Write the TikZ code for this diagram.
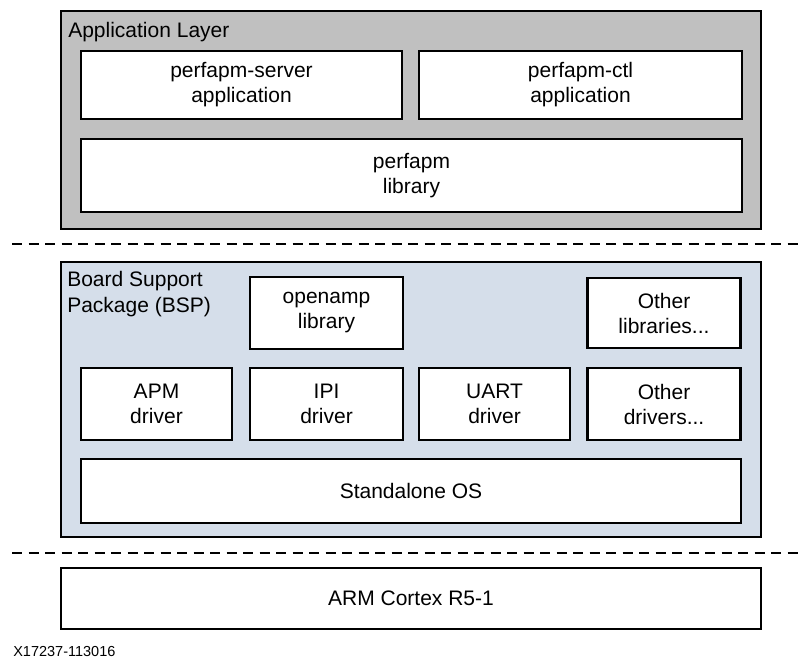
\documentclass[tikz,border=0pt]{standalone}
\usepackage{fontspec}
\setmainfont{Liberation Sans}
\usetikzlibrary{positioning,calc}

\definecolor{applayer}{HTML}{C0C0C0}
\definecolor{bsplayer}{HTML}{D5DEEA}

\begin{document}
\begin{tikzpicture}[x=1pt, y=-1pt, line width=2.6pt,
    layer/.style={draw, rectangle, minimum width=700pt},
    block/.style={draw, rectangle, fill=white, align=center, font=\fontsize{21}{25}\selectfont},
    title/.style={anchor=north west, inner sep=0pt, align=left, font=\fontsize{21}{26}\selectfont},
    sepline/.style={line width=1.6pt, dash pattern=on 10pt off 6.5pt}]
    \useasboundingbox (0,0) rectangle (799,661);

    % Application layer
    \node[layer, fill=applayer, minimum height=218pt] (app) at (411,120) {};
    \node[title] (apptitle) at (67,21) {Application Layer};
    \node[block, minimum width=321pt, minimum height=68pt] (server) at (241.5,85) {perfapm-server\\application};
    \node[block, minimum width=323pt, minimum height=68pt] (ctl) at (580.5,85) {perfapm-ctl\\application};
    \node[block, minimum width=661pt, minimum height=73pt] (lib) at (411.5,175.5) {perfapm\\library};

    % Separators
    \coordinate (cutAL) at (12,244);
    \coordinate (cutAR) at (799,244);
    \draw[sepline] (cutAL) -- (cutAR);

    % Board support package
    \node[layer, fill=bsplayer, minimum height=275pt] (bsp) at (411,399.5) {};
    \node[title] (bsptitle) at (66,270) {Board Support\\Package (BSP)};
    \node[block, minimum width=153pt, minimum height=72pt] (openamp) at (326.5,313) {openamp\\library};
    \node[block, minimum width=153pt, minimum height=70pt] (otherlib) at (664,313) {Other\\libraries...};
    \node[block, minimum width=151pt, minimum height=72pt] (apm) at (156.5,404) {APM\\driver};
    \node[block, minimum width=153pt, minimum height=72pt] (ipi) at (326.5,404) {IPI\\driver};
    \node[block, minimum width=151pt, minimum height=72pt] (uart) at (494.5,404) {UART\\driver};
    \node[block, minimum width=153pt, minimum height=72pt] (otherdrv) at (664,404) {Other\\drivers...};
    \node[block, minimum width=660pt, minimum height=64pt] (os) at (411,491) {Standalone OS};

    \coordinate (cutBL) at (12,553);
    \coordinate (cutBR) at (799,553);
    \draw[sepline] (cutBL) -- (cutBR);

    % Processor
    \node[block, minimum width=700pt, minimum height=61pt] (cpu) at (411,598.5) {ARM Cortex R5-1};

    \node[anchor=base west, inner sep=0pt, font=\fontsize{14.5}{17}\selectfont] (figid) at (12,656) {X17237-113016};
\end{tikzpicture}
\end{document}
